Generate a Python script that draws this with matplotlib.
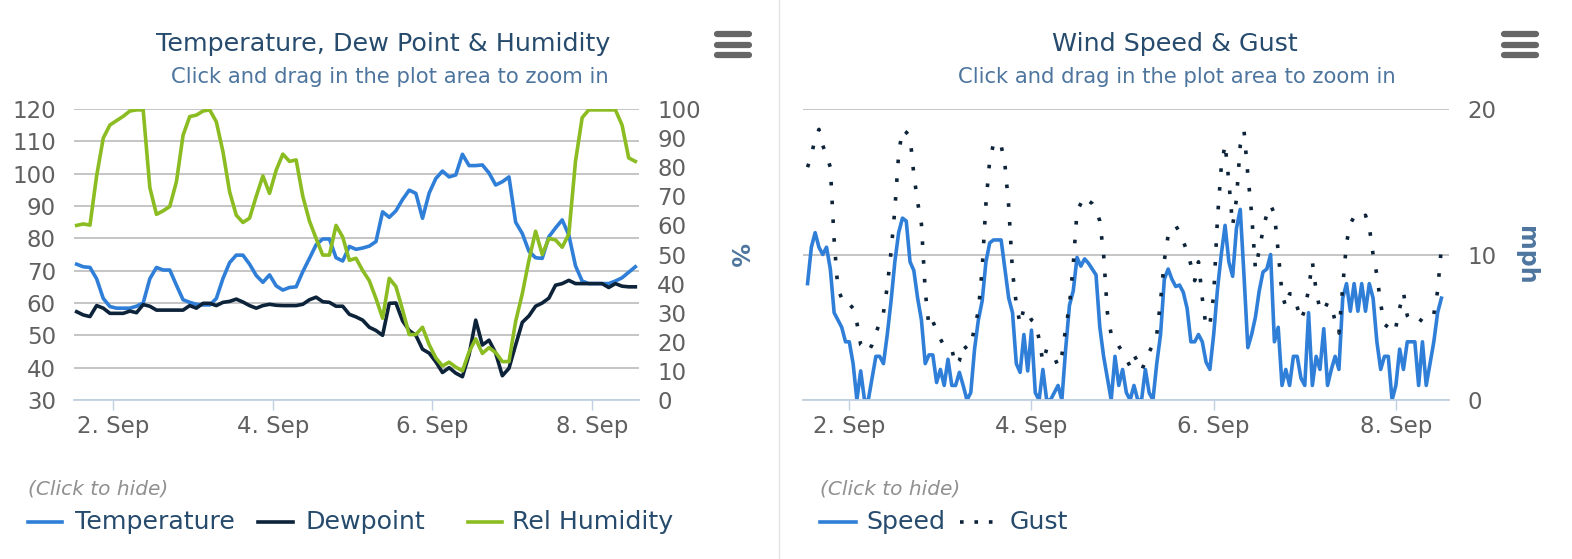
import pandas as pd
import matplotlib
matplotlib.use("Agg")
import matplotlib.pyplot as plt
import matplotlib.dates as mdates
from matplotlib.lines import Line2D

W, H = 1572, 559

# values
start = "2014-09-01 13:00"
day_zero = "2014-09-02"

# every 2 hours from 1 Sep 13:00
temperature = [72, 71.2, 71, 67.5, 61.4, 58.9, 58.4, 58.4, 58.4, 59, 60, 67.5, 71, 70.2, 70.2,
               65.5, 61, 60.2, 59.6, 59.4, 59.4, 61.4, 67.6, 72.5, 74.8, 74.8, 72, 68.5, 66.4,
               68.7, 65.3, 64, 64.8, 65, 69.7, 73.8, 78, 79.8, 79.8, 74, 73, 77.5, 76.6, 77,
               77.6, 79, 88.2, 86.5, 88.5, 92, 94.9, 93.9, 86.2, 94, 98.5, 100.8, 99, 99.6, 106,
               102.5, 102.5, 102.7, 100.2, 96.5, 97.5, 99, 85, 81.5, 76, 74, 73.8, 80.5, 83.2,
               85.7, 81, 71.5, 66.8, 66, 66, 66, 66, 66.8, 67.8, 69.5, 71.2]
dewpoint = [57.3, 56.3, 55.8, 59.2, 58.4, 56.8, 56.8, 56.8, 57.5, 57, 59.5, 59, 57.8, 57.8, 57.8,
            57.8, 57.8, 59.2, 58.4, 59.9, 59.9, 59.2, 60.2, 60.5, 61.2, 60.3, 59.2, 58.4, 59.2,
            59.6, 59.3, 59.2, 59.2, 59.2, 59.6, 61, 61.8, 60.4, 60.2, 59, 59, 56.5, 55.7, 54.7,
            52.5, 51.5, 50, 59.9, 60, 54.5, 51.5, 50, 45.7, 44.5, 41.8, 38.5, 40, 38.3, 37.2,
            44, 54.7, 47, 48.5, 44.5, 37.5, 39.8, 47, 54, 56, 59, 60, 61.5, 65.5, 66, 67, 66,
            66, 66, 66, 66, 64.8, 66, 65.2, 65, 65]
humidity = [60, 60.5, 60.1, 77, 90, 94.5, 96, 97.5, 99.3, 99.7, 99.7, 73, 63.8, 65, 66.5, 75, 91,
            97.4, 97.9, 99.3, 99.7, 95.6, 85.3, 71.5, 63.5, 61, 62.5, 70, 77, 71, 79, 84.5, 82,
            82.5, 70, 61.5, 55.5, 49.8, 49.8, 60, 56, 48, 48.7, 44.5, 41, 34.9, 28.1, 41.8, 39,
            31, 22.5, 22.5, 25, 19, 14.5, 11.7, 13, 11.3, 10, 16.5, 21, 16, 18, 16.3, 13.2,
            13.2, 27, 36.5, 48, 58, 50, 55.5, 55, 52.5, 57, 82, 97, 99.7, 99.7, 99.7, 99.7,
            99.7, 94.5, 83.2, 82]

# every hour from 1 Sep 13:00
speed = [8, 10.5, 11.5, 10.5, 10, 10.5, 9, 6, 5.5, 5, 4,
         4, 2.5, 0, 2, 0, 0, 1.5, 3, 3, 2.5,
         4.5, 6.8, 9.5, 11.5, 12.5, 12.3, 9.5, 8.9, 7, 5.5,
         2.5, 3.1, 3.1, 1.2, 2.1, 1, 2.8, 1, 1, 1.9,
         1, 0, 0.5, 3.5, 5.5, 6.8, 9.5, 10.8, 11, 11,
         11, 9, 7, 6, 2.5, 1.9, 4.5, 2, 4.8, 0.5,
         0, 2.1, 0, 0, 0.5, 1, 0, 3.5, 6.5, 7.5,
         9.8, 9.2, 9.7, 9.4, 9, 8.6, 5, 3, 1.5, 0,
         3, 1, 2.1, 0.5, 0, 1, 0, 0, 2.1, 0.5,
         0, 2.5, 4.5, 8.3, 9, 8.3, 7.8, 7.9, 7.4, 6.3,
         4, 4, 4.5, 4, 2.6, 2.1, 4.5, 7.6, 10, 12,
         9.5, 8.5, 11.8, 13.1, 8.5, 3.6, 4.5, 5.7, 7.5, 8.8,
         9, 10, 4, 5, 1, 2.1, 1, 3, 3, 1.5,
         1, 6, 1, 3, 2.1, 4.9, 1, 2.1, 3, 2.1,
         7, 8, 6.1, 8, 6.1, 8, 6.1, 8, 7, 4,
         2.1, 3, 3, 0, 1, 3.5, 2.1, 4, 4, 4,
         1, 4, 1, 2.5, 4, 6, 7]
gust = [16, 16.8, 18, 18.6, 17.5, 16.8, 16, 11, 7.6, 7, 6.5,
        6.6, 6.3, 5.3, 3.8, 3.6, 3.3, 3.8, 4.6, 5.3, 6,
        7.8, 10.2, 13.1, 16.9, 18.6, 18.4, 18.1, 15.5, 13.6, 12.1,
        7.5, 5, 5.4, 4.8, 4.2, 3.7, 3.6, 3.5, 2.4, 2.7,
        3.8, 3.5, 3.7, 5, 6.1, 9, 13.5, 16.5, 17.6, 17.3,
        17.5, 16.2, 13.3, 8.8, 6.6, 5.2, 6.3, 6, 5.5, 5.3,
        4.2, 2.6, 3.5, 3.3, 3, 2.3, 3.1, 4.9, 6.5, 9.3,
        13, 13.5, 14, 13.7, 13.5, 13.1, 12.3, 10, 6, 4.5,
        4.2, 3.7, 3.3, 2.8, 2.3, 3.1, 2.6, 2, 2.7, 3.3,
        3.8, 4.5, 6.8, 9.6, 11.3, 11.6, 12, 11.5, 10.9, 10.2,
        9.3, 8.2, 9.5, 7, 5, 5.2, 7.2, 12.5, 16, 17.6,
        15, 12, 13.8, 17.5, 18.5, 15.5, 12.8, 9, 10.3, 11.7,
        12.8, 13.4, 12.8, 10.2, 7.3, 6.4, 7.3, 7.3, 6.4, 5.5,
        6.2, 7.6, 9.5, 7.5, 6.2, 6.1, 6.7, 6.5, 5.4, 4.6,
        7.8, 10.8, 12.1, 12.6, 12.4, 12.4, 12.7, 11.9, 10, 8.6,
        6.6, 5.2, 5, 4.6, 5, 6.3, 7.4, 5.8, 5.4, 5.6,
        5.6, 5.4, 5.4, 5.5, 5.9, 7.5, 10.5]

tick_days = ["2014-09-02", "2014-09-04", "2014-09-06", "2014-09-08"]
tick_labels = ["2. Sep", "4. Sep", "6. Sep", "8. Sep"]
temp_ticks = list(range(30, 121, 10))
hum_ticks = list(range(0, 101, 10))
wind_ticks = [0, 10, 20]

BLUE = "#2f7ed8"
NAVY = "#0d233a"
GREEN = "#8bbc21"
TITLE = "#274b6d"
SUB = "#4d759e"
LABEL = "#606060"
GRID = "#c0c0c0"
AXIS = "#c0d0e0"
LW = 2.6
GUST_LW = 2.6
GUST_DASH = (0, (1, 4.2))

plt.rcParams["font.family"] = ["DejaVu Sans"]

times_2h = pd.date_range(start, periods=len(temperature), freq="2h")
times_1h = pd.date_range(start, periods=len(speed), freq="h")
day0 = pd.Timestamp(day_zero)
ticks = mdates.date2num(pd.to_datetime(tick_days))


def box(x0, y0, x1, y1):
    return [x0 / W, 1 - y1 / H, (x1 - x0) / W, (y1 - y0) / H]


def fx(x):
    return x / W


def fy(y):
    return 1 - y / H


def style_axis(ax, hours_lo, hours_hi):
    ax.set_xlim(day0 + pd.Timedelta(hours=hours_lo), day0 + pd.Timedelta(hours=hours_hi))
    ax.set_xticks(ticks)
    ax.set_xticklabels(tick_labels)
    for s in ["top", "left", "right"]:
        ax.spines[s].set_visible(False)
    ax.spines["bottom"].set_color(AXIS)
    ax.spines["bottom"].set_linewidth(1.3)
    ax.tick_params(axis="x", length=7, width=1, color=AXIS, labelsize=16.5,
                   labelcolor=LABEL, pad=4)
    ax.tick_params(axis="y", length=0, labelsize=16.5, labelcolor=LABEL, pad=13)
    ax.grid(axis="y", color=GRID, lw=1.3)
    ax.set_facecolor("none")


fig = plt.figure(figsize=(W / 100, H / 100), dpi=100)

# left panel
ax1 = fig.add_axes(box(74, 109, 639, 400))
ax1.plot(times_2h, temperature, color=BLUE, lw=LW, solid_joinstyle="round")
ax1.plot(times_2h, dewpoint, color=NAVY, lw=LW, solid_joinstyle="round")
ax1.set_ylim(30, 120)
ax1.set_yticks(temp_ticks)
style_axis(ax1, -11.8, 158.1)

ax1b = ax1.twinx()
ax1b.plot(times_2h, humidity, color=GREEN, lw=LW, solid_joinstyle="round")
ax1b.set_ylim(0, 100)
ax1b.set_yticks(hum_ticks)
for s in ax1b.spines.values():
    s.set_visible(False)
ax1b.tick_params(axis="y", length=0, labelsize=16.5, labelcolor=LABEL, pad=13)

# right panel
ax2 = fig.add_axes(box(803, 109, 1449, 400))
ax2.plot(times_1h, speed, color=BLUE, lw=LW, solid_joinstyle="round")
ax2.plot(times_1h, gust, color=NAVY, lw=GUST_LW, linestyle=GUST_DASH, dash_capstyle="butt")
ax2.set_ylim(0, 20)
ax2.set_yticks(wind_ticks)
ax2.yaxis.tick_right()
style_axis(ax2, -12.2, 158.0)

# titles
fig.text(fx(383), fy(44), "Temperature, Dew Point & Humidity", ha="center", va="center",
         fontsize=18.3, color=TITLE)
fig.text(fx(390), fy(77), "Click and drag in the plot area to zoom in", ha="center",
         va="center", fontsize=15.2, color=SUB)
fig.text(fx(1175), fy(44), "Wind Speed & Gust", ha="center", va="center", fontsize=18.3,
         color=TITLE)
fig.text(fx(1177), fy(77), "Click and drag in the plot area to zoom in", ha="center",
         va="center", fontsize=15.2, color=SUB)

# axis titles
fig.text(fx(737), fy(255), "%", rotation=270, ha="center", va="center", fontsize=17,
         fontweight="bold", color=SUB)
fig.text(fx(1526), fy(255), "mph", rotation=270, ha="center", va="center", fontsize=17,
         fontweight="bold", color=SUB)

# menu icons
for x0 in [717, 1504]:
    for y in [34, 44.5, 55]:
        fig.add_artist(Line2D([fx(x0), fx(x0 + 32)], [fy(y), fy(y)], lw=4.5,
                              color="#666666", solid_capstyle="round"))

# divider between the two charts
fig.add_artist(Line2D([fx(779), fx(779)], [0, 1], lw=1, color="#e4e4e4"))

# legends
for x in [28, 820]:
    fig.text(fx(x), fy(489), "(Click to hide)", style="italic", fontsize=14.5,
             color="#909090", va="center")

legend_items = [
    ("Temperature", BLUE, "-", 28, 62, 75),
    ("Dewpoint", NAVY, "-", 258, 293, 305),
    ("Rel Humidity", GREEN, "-", 468, 502, 512),
    ("Speed", BLUE, "-", 820, 856, 866),
    ("Gust", NAVY, (0, (1, 3.0)), 960, 997, 1010),
]
for label, color, ls, s0, s1, tx in legend_items:
    fig.add_artist(Line2D([fx(s0), fx(s1)], [fy(522), fy(522)], lw=LW, color=color,
                          linestyle=ls, dash_capstyle="butt"))
    fig.text(fx(tx), fy(522), label, fontsize=18.2, color=TITLE, va="center")

fig.savefig("out.png", dpi=100, facecolor="white")
